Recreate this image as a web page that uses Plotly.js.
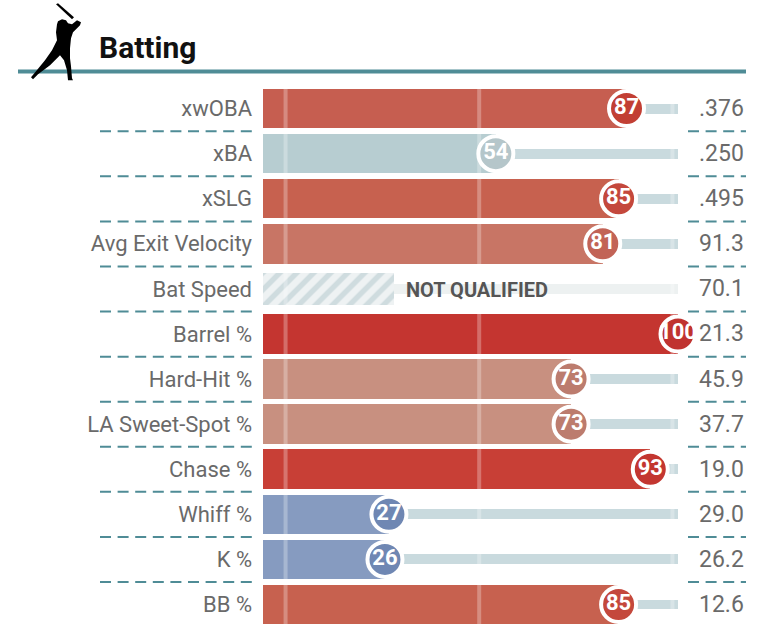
<!DOCTYPE html>
<html><head><meta charset="utf-8">
<script src="https://cdn.plot.ly/plotly-3.0.1.min.js"></script>
<style>html,body{margin:0;padding:0;background:#fff}#c{width:768px;height:627px}</style>
</head><body><div id="c"></div>
<script>
const metrics = ["xwOBA","xBA","xSLG","Avg Exit Velocity","Bat Speed","Barrel %","Hard-Hit %","LA Sweet-Spot %","Chase %","Whiff %","K %","BB %"];
const percentiles = [87,54,85,81,null,100,73,73,93,27,26,85];
const valueLabels = [".376",".250",".495","91.3","70.1","21.3","45.9","37.7","19.0","29.0","26.2","12.6"];
const barColors = ["#c65e50","#b7cdd1","#c7614f","#c87565","","#c43530","#c89080","#c89080","#c83f36","#869bc0","#869bc0","#c7614f"];
const bubbleColors = ["#c23f34","#b5c6ca","#c4483c","#c26356","","#c03330","#bc7c6e","#bc7c6e","#c33630","#6f87b3","#6f87b3","#c4483c"];
const gridPercentiles = [0.9,49.8,98.6];
const notQualifiedEnd = 28.4;

const FONT = '"Liberation Sans Narrow","Roboto",sans-serif';
const L=263,R=678,T=85.7,B=627;
const px=x=>(x-L)/(R-L), py=y=>(B-y)/(B-T);
const axisStart=-4.8;
const idx=metrics.map((_,i)=>i);
const q=idx.filter(i=>percentiles[i]!==null);
const nq=idx.filter(i=>percentiles[i]===null);

const traces=[
 {type:'bar',orientation:'h',y:q,base:q.map(()=>axisStart),x:q.map(i=>percentiles[i]-axisStart),width:0.876,
  marker:{color:q.map(i=>barColors[i])},hoverinfo:'skip'},
 {type:'bar',orientation:'h',y:q,base:q.map(i=>percentiles[i]),x:q.map(i=>100-percentiles[i]),width:0.22,
  marker:{color:'#c9dade'},hoverinfo:'skip'},
 {type:'bar',orientation:'h',y:nq,base:nq.map(()=>notQualifiedEnd),x:nq.map(()=>100-notQualifiedEnd),width:0.22,
  marker:{color:'#edf1f1'},hoverinfo:'skip'},
 {type:'bar',orientation:'h',y:nq,base:nq.map(()=>axisStart),x:nq.map(()=>notQualifiedEnd-axisStart),width:0.71,
  marker:{color:'#fff',pattern:{shape:'/',fgcolor:'#cfdcdf',bgcolor:'#eef2f3',size:12,solidity:0.45}},hoverinfo:'skip'},
 {type:'scatter',mode:'lines',x:gridPercentiles.flatMap(v=>[v,v,null]),y:gridPercentiles.flatMap(()=>[-0.5,11.5,null]),
  line:{color:'rgba(255,255,255,0.28)',width:4},hoverinfo:'skip'},
 {type:'scatter',mode:'markers+text',x:q.map(i=>percentiles[i]),y:q,text:q.map(i=>String(percentiles[i])),
  textposition:'middle center',cliponaxis:false,
  textfont:{family:FONT,size:22,color:'#fff',weight:700},
  marker:{size:35,color:q.map(i=>bubbleColors[i]),line:{color:'#fff',width:4},opacity:1},hoverinfo:'skip'}
];

const annotations=metrics.map((m,i)=>({xref:'paper',yref:'y',x:px(746),y:i,text:valueLabels[i],showarrow:false,
   xanchor:'right',yanchor:'middle',font:{family:FONT,size:23,color:'#6a6a6a'}}));
annotations.push({xref:'x',yref:'y',x:nq.length?notQualifiedEnd+2.4:0,y:nq[0]+0.03,text:'NOT QUALIFIED',showarrow:false,xanchor:'left',yanchor:'middle',
   font:{family:FONT,size:20,color:'#555',weight:700}});
annotations.push({xref:'paper',yref:'paper',x:px(97),y:py(47),text:'Batting',showarrow:false,xanchor:'left',yanchor:'middle',
   font:{family:FONT,size:30,color:'#111',weight:700}});

const shapes=[];
const sepY=i=>131+45.1*i;
for(let i=0;i<11;i++){
  for(const [a,b] of [[100,253],[688,746]]){
    shapes.push({type:'line',xref:'paper',yref:'paper',x0:px(a),x1:px(b),y0:py(sepY(i)),y1:py(sepY(i)),
      line:{color:'#4f8c96',width:2,dash:'11px,6.6px'}});
  }
}
shapes.push({type:'line',xref:'paper',yref:'paper',x0:px(18),x1:px(746),y0:py(71.3),y1:py(71.3),line:{color:'#4f8c96',width:4}});
const pathOf=pts=>'M '+pts.map(p=>px(p[0])+','+py(p[1])).join(' L ')+' Z';
const bat=[[56,4],[58,3],[74,17],[72,19]];
const body=[[57,24],[58,21],[62,19],[66,20],[68,23],[72,24],[77,20],[81,22],[80,25],[73,32],[71,38],[70,48],[70,58],[71,66],[72,78],[73,80],[68,80],[67,70],[64,60],[60,55],[50,65],[38,74],[33,79],[31,77],[36,71],[45,60],[52,50],[57,40],[56,32]];
for(const s of [bat,body]) shapes.push({type:'path',xref:'paper',yref:'paper',path:pathOf(s),fillcolor:'#000',line:{width:0}});

Plotly.newPlot('c',traces,{
  width:768,height:627,margin:{l:L,r:768-R,t:T,b:627-B,pad:0},
  paper_bgcolor:'#fff',plot_bgcolor:'#fff',showlegend:false,barmode:'overlay',bargap:0,
  xaxis:{range:[axisStart,100],showgrid:false,zeroline:false,showline:false,showticklabels:false,ticks:''},
  yaxis:{range:[11.5,-0.5],tickmode:'array',tickvals:idx,ticktext:metrics,showgrid:false,zeroline:false,showline:false,ticks:'',
    ticklabelstandoff:10,tickfont:{family:FONT,size:22,color:'#6a6a6a'},automargin:false},
  annotations,shapes
},{displayModeBar:false,staticPlot:true});
</script></body></html>
